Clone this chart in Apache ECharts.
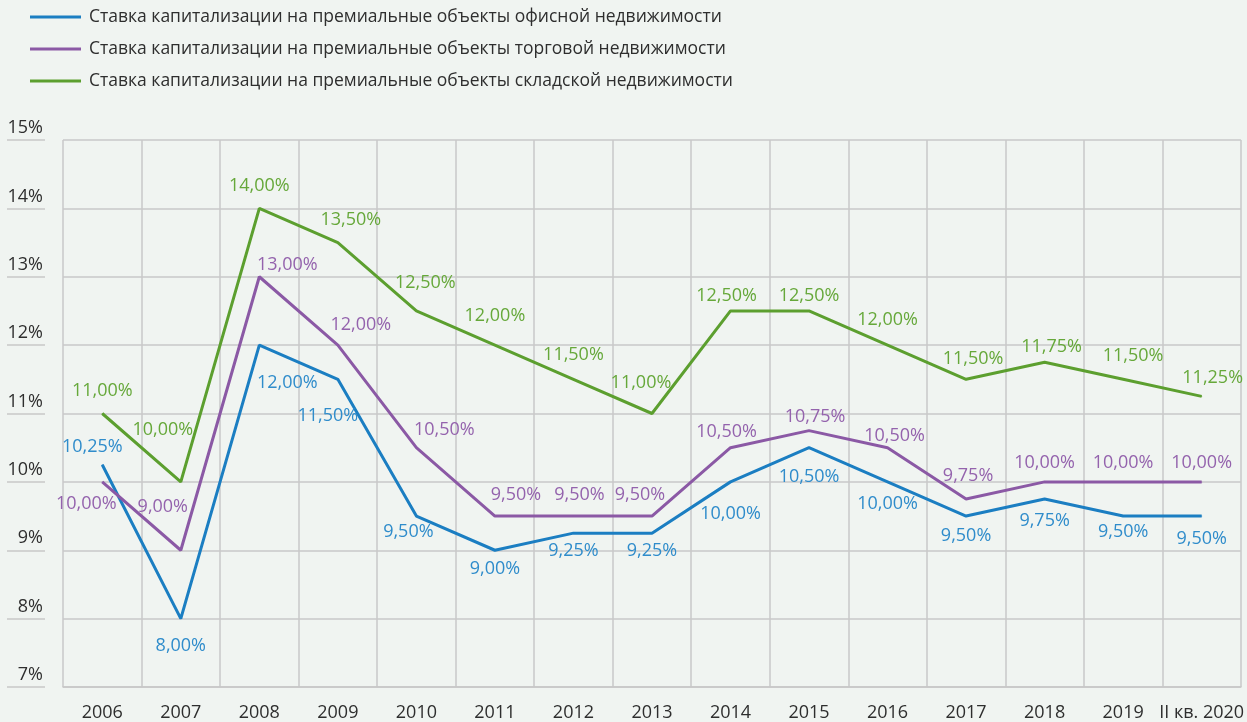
<!DOCTYPE html>
<html>
<head>
<meta charset="utf-8">
<script src="https://cdn.jsdelivr.net/npm/echarts@6/dist/echarts.min.js"></script>
<style>
  html, body { margin: 0; padding: 0; background: #f0f4f1; }
  #chart { width: 1247px; height: 722px; }
</style>
</head>
<body>
<div id="chart"></div>
<script>
// категории и значения (%)
const years = ['2006', '2007', '2008', '2009', '2010', '2011', '2012', '2013', '2014', '2015', '2016', '2017', '2018', '2019', 'II кв. 2020']
const officeRates = [10.25, 8.00, 12.00, 11.50, 9.50, 9.00, 9.25, 9.25, 10.00, 10.50, 10.00, 9.50, 9.75, 9.50, 9.50]
const retailRates = [10.00, 9.00, 13.00, 12.00, 10.50, 9.50, 9.50, 9.50, 10.50, 10.75, 10.50, 9.75, 10.00, 10.00, 10.00]
const storageRates = [11.00, 10.00, 14.00, 13.50, 12.50, 12.00, 11.50, 11.00, 12.50, 12.50, 12.00, 11.50, 11.75, 11.50, 11.25]
const seriesNames = [
  'Ставка капитализации на премиальные объекты офисной недвижимости',
  'Ставка капитализации на премиальные объекты торговой недвижимости',
  'Ставка капитализации на премиальные объекты складской недвижимости'
]

// сдвиги подписей относительно точек (px)
const officeShift = [[-10,-18],[0,27],[28,38],[-10,37],[-8,16],[0,19],[0,18],[0,18],[0,32],[0,29],[0,22],[0,20],[0,22],[0,16],[0,23]]
const retailShift = [[-16,22],[-18,-43],[28,-12],[23,-20],[28,-18],[21,-21],[6,-21],[-12,-21],[-4,-16],[6,-14],[7,-12],[2,-23],[0,-19],[0,-19],[0,-19]]
const storageShift = [[0,-23],[-18,-52],[0,-23],[13,-23],[9,-28],[0,-29],[0,-24],[-11,-31],[-4,-15],[0,-15],[0,-25],[7,-20],[7,-15],[10,-23],[11,-19]]

const fontFamily = '"Open Sans", "Noto Sans", sans-serif'

function fmt(v) {
  return v.toFixed(2).replace('.', ',') + '%'
}

function makeSeries(name, values, shifts, lineColor, labelColor) {
  return {
    name: name,
    type: 'line',
    symbol: 'circle',
    symbolSize: 1,
    showSymbol: true,
    itemStyle: { color: lineColor },
    lineStyle: { color: lineColor, width: 3 },
    label: {
      show: true,
      position: 'inside',
      color: labelColor,
      fontSize: 18,
      fontFamily: fontFamily,
      formatter: (p) => fmt(p.value)
    },
    emphasis: { disabled: true },
    data: values.map((v, i) => ({ value: v, label: { offset: shifts[i] } }))
  }
}

const chart = echarts.init(document.getElementById('chart'))
chart.setOption({
  animation: false,
  backgroundColor: '#f0f4f1',
  legend: {
    orient: 'vertical',
    left: 25,
    top: 2,
    itemWidth: 51,
    itemHeight: 3,
    itemGap: 12,
    icon: 'rect',
    textStyle: {
      color: '#2e2e2e',
      fontSize: 17.5,
      fontFamily: fontFamily,
      lineHeight: 20,
      padding: [0, 0, 0, 3]
    },
    data: seriesNames
  },
  grid: {
    left: 63,
    right: 2,
    top: 140,
    bottom: 34
  },
  xAxis: {
    type: 'category',
    data: years,
    boundaryGap: true,
    axisLine: { lineStyle: { color: '#c8c8c8', width: 1.5 } },
    axisTick: { show: false },
    splitLine: { show: true, interval: 0, lineStyle: { color: '#c8c8c8', width: 1.5 } },
    axisLabel: {
      interval: 0,
      margin: 17,
      color: '#2e2e2e',
      fontSize: 18,
      fontFamily: fontFamily
    }
  },
  yAxis: {
    type: 'value',
    min: 7,
    max: 15,
    interval: 1,
    offset: 18,
    axisLine: { show: false },
    axisTick: { show: true, length: 38, lineStyle: { color: '#c8c8c8', width: 1.5 } },
    splitLine: { show: true, lineStyle: { color: '#c8c8c8', width: 1.5 } },
    axisLabel: {
      margin: 2,
      color: '#2e2e2e',
      fontSize: 18,
      fontFamily: fontFamily,
      verticalAlign: 'bottom',
      lineHeight: 20,
      padding: [0, 0, 2, 0],
      formatter: (v) => v + '%'
    }
  },
  series: [
    makeSeries(seriesNames[0], officeRates, officeShift, '#1b7ec2', '#2f8ccb'),
    makeSeries(seriesNames[1], retailRates, retailShift, '#8b59a5', '#9463ad'),
    makeSeries(seriesNames[2], storageRates, storageShift, '#5c9f2f', '#66a83a')
  ]
})
</script>
</body>
</html>
